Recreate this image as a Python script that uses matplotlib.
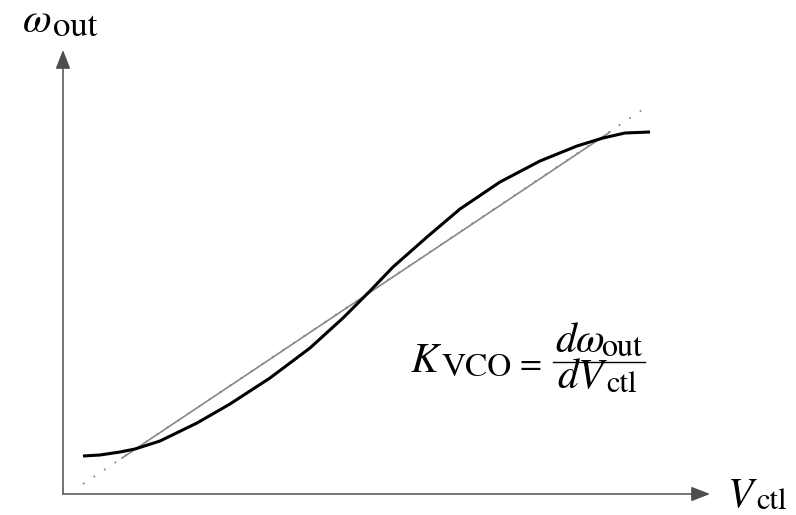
import numpy as np
import matplotlib
matplotlib.use('Agg')
import matplotlib.pyplot as plt

plt.rcParams['mathtext.fontset'] = 'stix'
plt.rcParams['font.family'] = 'STIXGeneral'

# VCO characteristic (origin at the axes corner)
v_ctl = [20, 37, 57, 72, 97, 134, 167, 207, 247, 280, 307, 330, 364,
         397, 437, 477, 514, 540, 562, 587]
w_out = [38, 39, 42, 45, 53, 71, 90, 116, 146, 176, 203, 227, 257,
         285, 312, 333, 348, 356, 361, 362]

# linear approximation (tangent through the middle)
lin_x = [20, 582]
lin_y = [10, 386]
lin_solid_x = [59, 547]
lin_solid_y = [36, 362]

# axis extents
x_end = 647
y_end = 444

fig = plt.figure(figsize=(7.96, 5.15), dpi=100)
ax = fig.add_axes([0, 0, 1, 1])
ax.set_xlim(-63, 733)
ax.set_ylim(-21, 494)
ax.axis('off')

# axes with arrows
arrow = dict(arrowstyle='-|>,head_length=1.15,head_width=0.45', mutation_scale=10,
             color='#4d4d4d', lw=1.1, shrinkA=0, shrinkB=0)
ax.annotate('', xy=(x_end, 0), xytext=(0, 0), arrowprops=arrow)
ax.annotate('', xy=(0, y_end), xytext=(0, 0), arrowprops=arrow)

# dotted extension and solid gray tangent
ax.plot(lin_x, lin_y, color='#888888', lw=1.3, ls=(0, (1, 6)))
ax.plot(lin_solid_x, lin_solid_y, color='#888888', lw=1.2)

# curve
ax.plot(v_ctl, w_out, color='black', lw=2.2, solid_capstyle='butt', solid_joinstyle='round')

big = 30
kw = dict(ha='left', va='baseline')

# axis labels
ax.text(-41, 462, r'$\omega$', fontsize=big, **kw)
ax.text(-10, 458, 'out', fontsize=25, **kw)
ax.text(664, -13, r'$V$', fontsize=big, **kw)
ax.text(693, -15, 'ctl', fontsize=22, **kw)

# K_VCO = d w_out / d V_ctl
ax.text(347, 122, r'$K$', fontsize=big, **kw)
ax.text(378, 118, 'VCO', fontsize=24, **kw)
ax.text(465, 122, r'$=$', fontsize=23, ha='center', va='baseline')
ax.text(492, 142, r'$d\omega$', fontsize=big, **kw)
ax.text(538, 138, 'out', fontsize=23, **kw)
ax.text(494, 106, r'$dV$', fontsize=big, **kw)
ax.text(543, 102, 'ctl', fontsize=22, **kw)
ax.plot([490, 582], [132, 132], color='black', lw=1.0)

fig.savefig('out.png', dpi=100)
